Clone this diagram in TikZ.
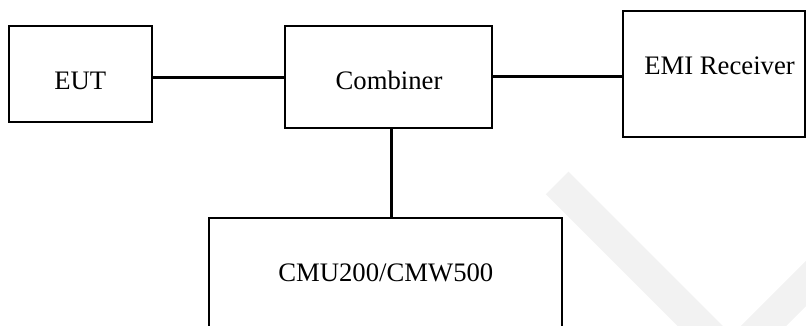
\documentclass[tikz,border=0pt]{standalone}
\usepackage{fontspec}
\setmainfont{Liberation Serif}
\begin{document}
\begin{tikzpicture}[x=1pt,y=-1pt,
  box/.style={draw=black,line width=2pt,inner sep=0pt,outer sep=0pt},
  lbl/.style={inner sep=0pt,anchor=base,font=\fontsize{26.7}{32}\selectfont},
  wire/.style={draw=black,line width=3pt},
  wmark/.style={draw=black!5,line width=32pt,line cap=butt}]
\useasboundingbox (0,0) rectangle (806,325);
% watermark
\draw[wmark] (557.2,183) -- (745,370.8);
\draw[wmark] (722,367.6) -- (860,229.6);
% boxes
\node[box,minimum width=143pt,minimum height=96pt] (eut) at (80.5,73.7) {};
\node[box,minimum width=207pt,minimum height=102pt] (comb) at (388.5,76.7) {};
\node[box,minimum width=182pt,minimum height=126pt] (emi) at (714.3,73.7) {};
\node[box,minimum width=352.4pt,minimum height=130pt] (cmu) at (385.5,282.7) {};
% labels
\node[lbl] (eutl) at (80.2,89) {EUT};
\node[lbl] (combl) at (389,89.3) {Combiner};
\node[lbl] (emil) at (719.5,74) {EMI Receiver};
\node[lbl] (cmul) at (385.8,281.7) {CMU200/CMW500};
% connectors
\draw[wire] ([yshift=-1pt]eut.east |- comb.west) -- ([yshift=-1pt]comb.west);
\draw[wire] ([yshift=0.4pt]comb.east) -- ([yshift=0.4pt]comb.east -| emi.west);
\draw[wire] ([xshift=3.2pt]comb.south) -- ([xshift=3.2pt]comb.south |- cmu.north);
\end{tikzpicture}
\end{document}
